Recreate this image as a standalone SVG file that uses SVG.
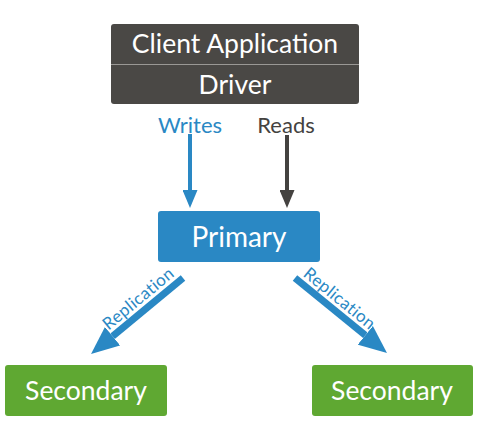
<svg xmlns="http://www.w3.org/2000/svg" width="478" height="428" viewBox="0 0 478 428">
<style>
.lbl{font-family:Lato,"Open Sans","DejaVu Sans",sans-serif;fill:#fff;text-anchor:middle}
.big{font-size:26.5px}
.edge{font-family:Lato,"Open Sans","DejaVu Sans",sans-serif;text-anchor:middle}
</style>
<defs>
<marker id="hb" viewBox="0 0 18 15" refX="0" refY="7.5" markerWidth="18" markerHeight="15" markerUnits="userSpaceOnUse" orient="auto"><path d="M0,0L18,7.5L0,15z" fill="#2a88c4"/></marker>
<marker id="hd" viewBox="0 0 18 15" refX="0" refY="7.5" markerWidth="18" markerHeight="15" markerUnits="userSpaceOnUse" orient="auto"><path d="M0,0L18,7.5L0,15z" fill="#444240"/></marker>
<marker id="hr" viewBox="0 0 28 24" refX="0" refY="12" markerWidth="28" markerHeight="24" markerUnits="userSpaceOnUse" orient="auto"><path d="M0,0L28,12L0,24z" fill="#2a88c4"/></marker>
</defs>
<g id="client">
<rect x="111" y="24" width="248" height="80" rx="3" fill="#4a4845"/>
<line x1="111" y1="64.5" x2="359" y2="64.5" stroke="#9a9895" stroke-width="1"/>
<text class="lbl big" x="235" y="53">Client Application</text>
<text class="lbl big" x="235" y="94">Driver</text>
</g>
<g id="primary">
<rect x="158" y="211" width="162" height="51" rx="3" fill="#2a88c4"/>
<text class="lbl" x="239" y="247" font-size="28">Primary</text>
</g>
<g id="secondary1">
<rect x="5" y="365" width="162" height="51" rx="3" fill="#5fa832"/>
<text class="lbl big" x="86" y="400">Secondary</text>
</g>
<g id="secondary2">
<rect x="312" y="365" width="161" height="51" rx="3" fill="#5fa832"/>
<text class="lbl big" x="392" y="400">Secondary</text>
</g>
<g id="connectors">
<line x1="190" y1="134" x2="190" y2="190" stroke="#2a88c4" stroke-width="4" marker-end="url(#hb)"/>
<text class="edge" x="190" y="133" font-size="22" fill="#2a88c4">Writes</text>
<line x1="287" y1="135" x2="287" y2="190" stroke="#444240" stroke-width="4" marker-end="url(#hd)"/>
<text class="edge" x="286" y="133" font-size="22" fill="#444240">Reads</text>
<line x1="183" y1="278" x2="112.6" y2="336.2" stroke="#2a88c4" stroke-width="7" marker-end="url(#hr)"/>
<text class="edge" font-size="17" letter-spacing="0.4" fill="#2a88c4" transform="translate(142,303) rotate(-39.6)">Replication</text>
<line x1="295" y1="278" x2="365.3" y2="335.3" stroke="#2a88c4" stroke-width="7" marker-end="url(#hr)"/>
<text class="edge" font-size="17" letter-spacing="0.4" fill="#2a88c4" transform="translate(336,303) rotate(39.2)">Replication</text>
</g>
</svg>
